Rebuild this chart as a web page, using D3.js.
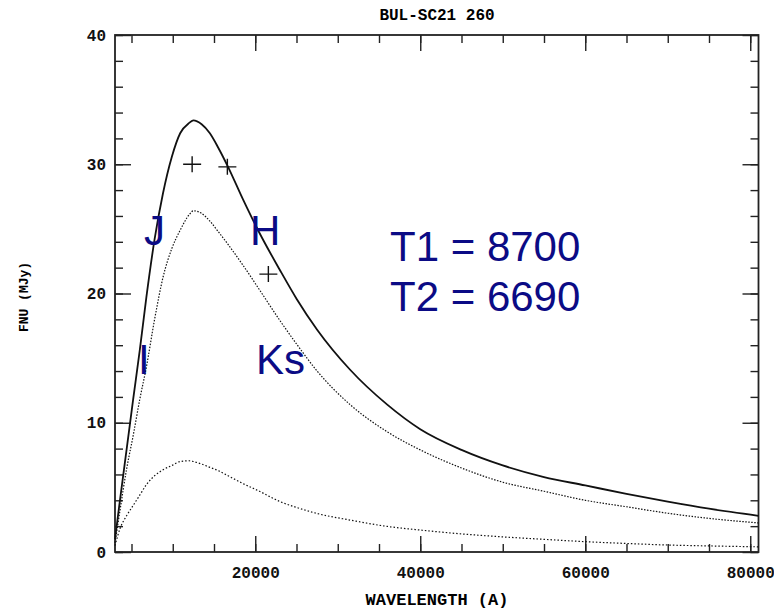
<!DOCTYPE html>
<html>
<head>
<meta charset="utf-8">
<script src="https://cdn.jsdelivr.net/npm/d3@7"></script>
<style>
  body { margin: 0; background: #fff; }
  svg { display: block; }
</style>
</head>
<body>
<svg width="774" height="611"></svg>
<script>
// wavelength grid (Angstrom)
var wavelengths = [3000, 3600, 4400, 5200, 6000, 6800, 7800, 8800, 9900, 10900, 12000, 12500, 13500, 14500, 15500, 16700,
	18500, 20500, 23000, 25000, 27500, 31500, 36000, 40000, 45000, 50000, 55000, 60000, 65000, 70000, 75000, 81000];

// total model (solid)
var totalFlux = [1.0, 4.0, 7.9, 11.8, 15.6, 19.7, 24.2, 27.7, 30.6, 32.4, 33.2, 33.4, 33.1, 32.4, 31.3, 29.8,
	27.3, 24.7, 21.8, 19.6, 17.2, 14.1, 11.4, 9.5, 7.9, 6.7, 5.8, 5.15, 4.5, 3.9, 3.35, 2.8];

// T1 component (dotted, upper)
var t1Flux = [0.7, 3.2, 6.4, 9.0, 11.8, 14.3, 18.0, 21.2, 23.5, 24.9, 26.1, 26.4, 26.2, 25.6, 24.8, 23.8,
	22.2, 20.3, 17.9, 16.1, 14.0, 11.4, 9.3, 7.9, 6.5, 5.4, 4.7, 4.0, 3.5, 3.0, 2.6, 2.25];

// T2 component (dotted, lower)
var t2Flux = [0.5, 1.8, 2.8, 3.6, 4.4, 5.2, 5.9, 6.35, 6.7, 7.0, 7.06, 7.0, 6.8, 6.55, 6.3, 5.9,
	5.3, 4.7, 3.9, 3.45, 2.98, 2.47, 1.98, 1.7, 1.4, 1.17, 0.98, 0.8, 0.66, 0.54, 0.47, 0.4];

// photometry points (J, H, Ks)
var photWave = [12350, 16620, 21590];
var photFlux = [30.0, 29.8, 21.5];

var xMinorTicks = d3.range(5000, 80001, 5000);
var xMajorTicks = [20000, 40000, 60000, 80000];
var yMinorTicks = d3.range(0, 41, 2);
var yMajorTicks = [0, 10, 20, 30, 40];

var bandLabels = [
	{text: 'J', x: 144, y: 245},
	{text: 'H', x: 250, y: 245},
	{text: 'I', x: 138, y: 374},
	{text: 'Ks', x: 256, y: 374},
	{text: 'T1 = 8700', x: 390, y: 261},
	{text: 'T2 = 6690', x: 390, y: 311}
];

var svg = d3.select('svg');

var x = d3.scaleLinear().domain([3000, 81000]).range([115, 758.5]);
var y = d3.scaleLinear().domain([0, 40]).range([552, 35]);

var monoFont = '"Liberation Mono", "DejaVu Sans Mono", monospace';

// axes: minor and major ticks on all four sides
function styleAxis(g){
	g.select('.domain').remove();
	g.selectAll('line').attr('stroke', '#222').attr('stroke-width', 1.4);
	g.selectAll('text')
		.attr('font-family', monoFont)
		.attr('font-weight', 'bold')
		.attr('font-size', 16)
		.attr('fill', '#111');
}

svg.append('g').attr('transform', 'translate(0,552)')
	.call(d3.axisBottom(x).tickValues(xMinorTicks).tickSize(-8).tickFormat(''))
	.call(styleAxis);
svg.append('g').attr('transform', 'translate(0,552)')
	.call(d3.axisBottom(x).tickValues(xMajorTicks).tickSize(-16).tickPadding(15).tickFormat(d3.format('d')))
	.call(styleAxis);
svg.append('g').attr('transform', 'translate(0,35)')
	.call(d3.axisTop(x).tickValues(xMinorTicks).tickSize(-8).tickFormat(''))
	.call(styleAxis);
svg.append('g').attr('transform', 'translate(0,35)')
	.call(d3.axisTop(x).tickValues(xMajorTicks).tickSize(-16).tickFormat(''))
	.call(styleAxis);

svg.append('g').attr('transform', 'translate(115,0)')
	.call(d3.axisLeft(y).tickValues(yMinorTicks).tickSize(-8).tickFormat(''))
	.call(styleAxis);
svg.append('g').attr('transform', 'translate(115,0)')
	.call(d3.axisLeft(y).tickValues(yMajorTicks).tickSize(-16).tickPadding(9).tickFormat(d3.format('d')))
	.call(styleAxis);
svg.append('g').attr('transform', 'translate(758.5,0)')
	.call(d3.axisRight(y).tickValues(yMinorTicks).tickSize(-8).tickFormat(''))
	.call(styleAxis);
svg.append('g').attr('transform', 'translate(758.5,0)')
	.call(d3.axisRight(y).tickValues(yMajorTicks).tickSize(-16).tickFormat(''))
	.call(styleAxis);

// frame
svg.append('rect')
	.attr('x', x(3000)).attr('y', y(40))
	.attr('width', x(81000) - x(3000)).attr('height', y(0) - y(40))
	.attr('fill', 'none').attr('stroke', '#222').attr('stroke-width', 1.8);

// curves
var line = d3.line()
	.x(function(d){ return x(d[0]) })
	.y(function(d){ return y(d[1]) })
	.curve(d3.curveMonotoneX);

function series(vals){
	return wavelengths.map(function(w, i){ return [w, vals[i]] });
}

svg.append('path').datum(series(t2Flux))
	.attr('d', line).attr('fill', 'none')
	.attr('stroke', '#111').attr('stroke-width', 1.2).attr('stroke-dasharray', '1.5,2');
svg.append('path').datum(series(t1Flux))
	.attr('d', line).attr('fill', 'none')
	.attr('stroke', '#111').attr('stroke-width', 1.2).attr('stroke-dasharray', '1.5,1.5');
svg.append('path').datum(series(totalFlux))
	.attr('d', line).attr('fill', 'none')
	.attr('stroke', '#111').attr('stroke-width', 1.8);

// photometry crosses
var crosses = svg.selectAll('.cross')
	.data(photWave.map(function(w, i){ return [w, photFlux[i]] }))
	.enter()
	.append('path')
	.attr('class', 'cross')
	.attr('d', function(d){
		var cx = x(d[0]), cy = y(d[1]);
		return 'M' + (cx - 9) + ',' + cy + 'H' + (cx + 9) + 'M' + cx + ',' + (cy - 8) + 'V' + (cy + 8);
	})
	.attr('stroke', '#111').attr('stroke-width', 1.4).attr('fill', 'none');

// blue annotations
svg.selectAll('.band')
	.data(bandLabels)
	.enter()
	.append('text')
	.attr('x', function(d){ return d.x })
	.attr('y', function(d){ return d.y })
	.attr('font-family', '"Liberation Sans", Arial, sans-serif')
	.attr('font-size', 42)
	.attr('fill', '#0b0b85')
	.text(function(d){ return d.text });

// titles
svg.append('text')
	.attr('x', 437).attr('y', 20)
	.attr('text-anchor', 'middle')
	.attr('font-family', monoFont).attr('font-weight', 'bold').attr('font-size', 16)
	.text('BUL-SC21 260');

svg.append('text')
	.attr('x', 437).attr('y', 605)
	.attr('text-anchor', 'middle')
	.attr('font-family', monoFont).attr('font-weight', 'bold').attr('font-size', 17)
	.text('WAVELENGTH (A)');

svg.append('text')
	.attr('transform', 'translate(28,297) rotate(-90)')
	.attr('text-anchor', 'middle')
	.attr('font-family', monoFont).attr('font-weight', 'bold').attr('font-size', 13)
	.text('FNU (MJy)');
</script>
</body>
</html>
